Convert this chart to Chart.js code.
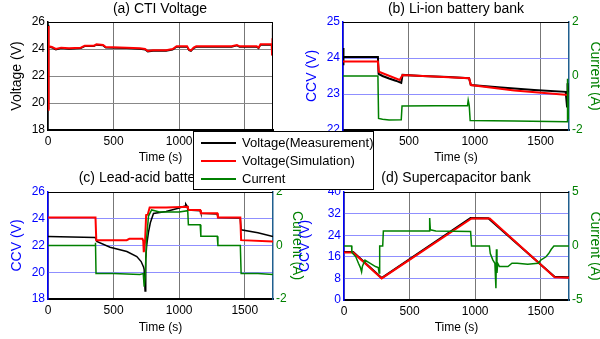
<!DOCTYPE html>
<html>
<head>
<title>Battery bank voltages and currents</title>
<style>
body{margin:0;width:600px;height:339px;overflow:hidden;background:#fff;position:relative;font-family:"Liberation Sans",Arial,sans-serif;}
canvas{position:absolute;}
.ttl{position:absolute;font-size:14px;line-height:16px;white-space:nowrap;transform:translateX(-50%);color:#000;}
#legend{position:absolute;left:193px;top:131px;width:179px;height:57px;background:#fff;border:1px solid #000;font-size:13px;}
#legend .row{position:absolute;left:48px;height:16px;line-height:16px;white-space:nowrap;}
#legend .sw{position:absolute;left:7px;width:35px;height:2px;}
</style>
</head>
<body>
<canvas id="chartA" width="300" height="170" style="left:0;top:0"></canvas>
<canvas id="chartB" width="317" height="170" style="left:295px;top:0"></canvas>
<canvas id="chartC" width="314" height="179" style="left:0;top:160px"></canvas>
<canvas id="chartD" width="324" height="179" style="left:288px;top:160px"></canvas>

<div class="ttl" style="left:160px;top:0">(a) CTI Voltage</div>
<div class="ttl" style="left:456px;top:0">(b) Li-ion battery bank</div>
<div class="ttl" style="left:160px;top:169px">(c) Lead-acid battery bank</div>
<div class="ttl" style="left:456px;top:169px;background:#fff">(d) Supercapacitor bank</div>

<div id="legend">
  <div class="sw" style="top:10px;background:#000"></div><div class="row" style="top:3px">Voltage(Measurement)</div>
  <div class="sw" style="top:28px;background:#ff0000"></div><div class="row" style="top:21px">Voltage(Simulation)</div>
  <div class="sw" style="top:46px;background:#008000"></div><div class="row" style="top:39px">Current</div>
</div>

<script src="https://cdn.jsdelivr.net/npm/chart.js@4.4.0/dist/chart.umd.min.js"></script>
<script>
// ---- data ----
const xMax = 1715;
const timeTicks = [0, 500, 1000, 1500];

// (a) CTI voltage
const ctiMeasTime = [0, 3, 6, 30, 60, 100, 160, 250, 280, 350, 370, 420, 440, 600, 700, 740, 760, 800, 900, 950, 980, 1060, 1075, 1090, 1110, 1130, 1400, 1440, 1460, 1590, 1605, 1620, 1705, 1709, 1712, 1715];
const ctiMeas     = [19.6, 25.8, 24.15, 24.1, 23.95, 24.05, 24.0, 24.05, 24.2, 24.2, 24.3, 24.25, 24.1, 24.05, 24.0, 23.95, 23.8, 23.85, 23.85, 23.95, 24.15, 24.15, 23.9, 23.85, 24.05, 24.15, 24.15, 24.25, 24.15, 24.15, 24.05, 24.3, 24.3, 23.6, 25.8, 24.3];
const ctiSimTime  = [0, 3, 6, 30, 60, 100, 160, 250, 280, 350, 370, 420, 440, 600, 700, 740, 760, 800, 900, 950, 980, 1060, 1075, 1090, 1110, 1130, 1400, 1440, 1460, 1590, 1605, 1620, 1705, 1708, 1711, 1715];
const ctiSim      = [19.5, 25.7, 24.2, 24.15, 24.0, 24.1, 24.05, 24.1, 24.25, 24.25, 24.35, 24.3, 24.15, 24.1, 24.05, 24.0, 23.85, 23.9, 23.9, 24.0, 24.2, 24.2, 23.95, 23.9, 24.1, 24.2, 24.2, 24.3, 24.2, 24.2, 24.1, 24.35, 24.35, 23.6, 24.8, 24.3];

// (b) Li-ion battery bank
const liMeasTime = [0, 2, 5, 265, 270, 300, 350, 400, 442, 452, 600, 800, 957, 970, 1200, 1450, 1690, 1700, 1704, 1710];
const liMeas     = [24.28, 23.8, 24.03, 24.03, 23.56, 23.5, 23.43, 23.37, 23.31, 23.53, 23.5, 23.47, 23.44, 23.25, 23.18, 23.11, 23.06, 22.65, 23.3, 23.05];
const liSimTime  = [0, 265, 272, 430, 452, 957, 970, 1300, 1710];
const liSim      = [23.9, 23.9, 23.62, 23.39, 23.53, 23.44, 23.25, 23.1, 22.97];
const liCurTime  = [0, 265, 270, 300, 350, 442, 448, 700, 945, 950, 958, 965, 1300, 1700, 1704, 1710];
const liCur      = [0, 0, -1.57, -1.6, -1.63, -1.62, -1.11, -1.1, -1.1, -0.9, -1.1, -1.65, -1.67, -1.69, -0.1, -1.6];

// (c) Lead-acid battery bank
const laMeasTime = [0, 360, 372, 473, 601, 677, 710, 728, 733, 740, 745, 752, 766, 780, 804, 900, 1000, 1045, 1050, 1060, 1066, 1160, 1166, 1290, 1296, 1465, 1472, 1600, 1715];
const laMeas     = [22.67, 22.6, 22.3, 21.87, 21.55, 21.17, 20.8, 20.4, 20.2, 18.6, 21.0, 22.0, 23.0, 23.7, 24.4, 24.55, 24.8, 24.95, 25.1, 24.95, 24.65, 24.6, 24.4, 24.35, 24.1, 24.05, 23.17, 22.95, 22.67];
const laSimTime  = [0, 362, 368, 600, 620, 720, 726, 730, 740, 748, 760, 775, 900, 1065, 1070, 1160, 1165, 1290, 1295, 1466, 1472, 1715];
const laSim      = [24.1, 24.1, 22.4, 22.4, 22.5, 22.5, 22.35, 21.5, 22.3, 24.28, 24.3, 24.85, 24.85, 24.9, 24.66, 24.66, 24.41, 24.41, 24.1, 24.1, 22.4, 22.3];
const laCurTime  = [0, 360, 362, 366, 500, 700, 726, 733, 740, 752, 766, 790, 850, 1000, 1065, 1070, 1160, 1165, 1290, 1295, 1466, 1472, 1600, 1715];
const laCur      = [0, 0, 0.1, -1.05, -1.05, -1.08, -1.05, -1.54, -1.2, 0.3, 1.1, 1.33, 1.25, 1.25, 1.3, 0.78, 0.78, 0.35, 0.35, 0, 0, -1.05, -1.05, -1.08];

// (d) Supercapacitor bank
const scMeasTime = [0, 70, 285, 300, 965, 1100, 1605, 1715];
const scMeas     = [17.8, 17.8, 8.2, 8.6, 30.4, 30.3, 8.6, 8.4];
const scSimTime  = [0, 70, 287, 972, 1111, 1606, 1715];
const scSim      = [17.6, 17.6, 8.0, 30.2, 30.2, 8.4, 8.2];
const scCurTime  = [0, 58, 60, 90, 110, 125, 134, 140, 160, 200, 240, 261, 268, 272, 295, 300, 650, 653, 658, 700, 965, 972, 1108, 1115, 1135, 1150, 1158, 1162, 1166, 1172, 1185, 1250, 1280, 1320, 1400, 1480, 1500, 1540, 1560, 1580, 1600, 1715];
const scCur      = [0, 0, -0.6, -1.0, -1.6, -2.0, -2.4, -1.9, -1.3, -1.6, -1.9, -2.0, -2.5, 0, 0, 1.4, 1.4, 2.6, 1.5, 1.4, 1.35, 0, 0, -0.7, -1.3, -1.6, -3.9, -0.3, -2.5, -1.6, -1.9, -1.9, -1.6, -1.6, -1.7, -1.6, -1.3, -1.0, -0.7, -0.3, 0, 0];

// ---- helpers ----
Chart.defaults.font.family = '"Liberation Sans", Arial, sans-serif';
const BLUE = '#0000ff', GREEN = '#008000', SPINE2 = '#1f5f8f';

function pts(t, v) { return t.map((x, i) => ({x: x, y: v[i]})); }

function line(t, v, color, width, axis, order) {
  return {data: pts(t, v), borderColor: color, borderWidth: width, pointRadius: 0,
          tension: 0, fill: false, yAxisID: axis, order: order};
}

const plain = v => String(v);

// top border (and right border when there is no second axis)
const frame = {
  id: 'frame',
  afterDraw(chart, args, opts) {
    const a = chart.chartArea, ctx = chart.ctx;
    ctx.save();
    ctx.strokeStyle = '#000';
    ctx.lineWidth = 1;
    ctx.beginPath();
    ctx.moveTo(a.left, a.top + 0.5); ctx.lineTo(a.right, a.top + 0.5);
    if (opts.right) { ctx.moveTo(a.right - 0.5, a.top); ctx.lineTo(a.right - 0.5, a.bottom); }
    ctx.stroke();
    ctx.restore();
  }
};

function panel(id, p) {
  const scales = {
    x: {
      type: 'linear', min: 0, max: xMax,
      afterBuildTicks: s => { s.ticks = timeTicks.map(v => ({value: v})); },
      afterFit: s => { s.height = p.bottomH; },
      grid: {color: '#777', drawTicks: false},
      border: {color: '#000', width: 2},
      ticks: {color: '#000', font: {size: 12}, padding: 4, maxRotation: 0, callback: plain},
      title: {display: true, text: 'Time (s)', color: '#000', font: {size: 12}, padding: {top: 0, bottom: p.titlePad}}
    },
    y: {
      type: 'linear', position: 'left', min: p.yTicks[0], max: p.yTicks[p.yTicks.length - 1],
      afterBuildTicks: s => { s.ticks = p.yTicks.map(v => ({value: v})); },
      afterFit: s => { s.width = p.leftW; },
      grid: {color: p.gridColor, drawTicks: false},
      border: {color: p.axisColor, width: 1.5},
      ticks: {color: p.axisColor, font: {size: 12}, padding: 3, callback: plain},
      title: {display: true, text: p.yTitle, color: p.axisColor, font: {size: 14}, padding: {top: 9, bottom: 0}}
    }
  };
  if (p.cTicks) {
    scales.y2 = {
      type: 'linear', position: 'right', min: p.cTicks[0], max: p.cTicks[p.cTicks.length - 1],
      afterBuildTicks: s => { s.ticks = p.cTicks.map(v => ({value: v})); },
      afterFit: s => { s.width = p.rightW; },
      grid: {drawOnChartArea: false, drawTicks: false},
      border: {color: SPINE2, width: 1.5},
      ticks: {color: GREEN, font: {size: 12}, padding: 3, callback: plain},
      title: {display: true, text: 'Current (A)', color: GREEN, font: {size: 14}, padding: {top: 9, bottom: 0}}
    };
  }
  new Chart(document.getElementById(id), {
    type: 'line',
    data: {datasets: p.sets},
    options: {
      responsive: false, animation: false, events: [],
      layout: {padding: {top: p.top, right: p.padRight || 0, left: 0, bottom: 0}},
      plugins: {legend: {display: false}, tooltip: {enabled: false}, frame: {right: !p.cTicks}},
      scales: scales
    },
    plugins: [frame]
  });
}

panel('chartA', {
  top: 22, bottomH: 40, titlePad: 5, leftW: 48, padRight: 27,
  yTicks: [18, 20, 22, 24, 26], yTitle: 'Voltage (V)', axisColor: '#000', gridColor: '#888',
  sets: [
    line(ctiSimTime, ctiSim, '#ff0000', 2, 'y', 1),
    line(ctiMeasTime, ctiMeas, '#000', 1.5, 'y', 2)
  ]
});

panel('chartB', {
  top: 22, bottomH: 40, titlePad: 5, leftW: 48, rightW: 43,
  yTicks: [22, 23, 24, 25], cTicks: [-2, 0, 2], yTitle: 'CCV (V)', axisColor: BLUE, gridColor: '#8f8fff',
  sets: [
    line(liCurTime, liCur, GREEN, 1.5, 'y2', 0),
    line(liSimTime, liSim, '#ff0000', 2, 'y', 1),
    line(liMeasTime, liMeas, '#000', 2, 'y', 2)
  ]
});

panel('chartC', {
  top: 32, bottomH: 40, titlePad: 4, leftW: 48, rightW: 41,
  yTicks: [18, 20, 22, 24, 26], cTicks: [-2, 0, 2], yTitle: 'CCV (V)', axisColor: BLUE, gridColor: '#8f8fff',
  sets: [
    line(laCurTime, laCur, GREEN, 1.5, 'y2', 0),
    line(laSimTime, laSim, '#ff0000', 2, 'y', 1),
    line(laMeasTime, laMeas, '#000', 1.5, 'y', 2)
  ]
});

panel('chartD', {
  top: 32, bottomH: 39, titlePad: 4, leftW: 56, rightW: 43,
  yTicks: [0, 8, 16, 24, 32, 40], cTicks: [-5, 0, 5], yTitle: 'CCV (V)', axisColor: BLUE, gridColor: '#8f8fff',
  sets: [
    line(scCurTime, scCur, GREEN, 1.5, 'y2', 0),
    line(scSimTime, scSim, '#ff0000', 2, 'y', 1),
    line(scMeasTime, scMeas, '#000', 2, 'y', 2)
  ]
});
</script>
</body>
</html>
